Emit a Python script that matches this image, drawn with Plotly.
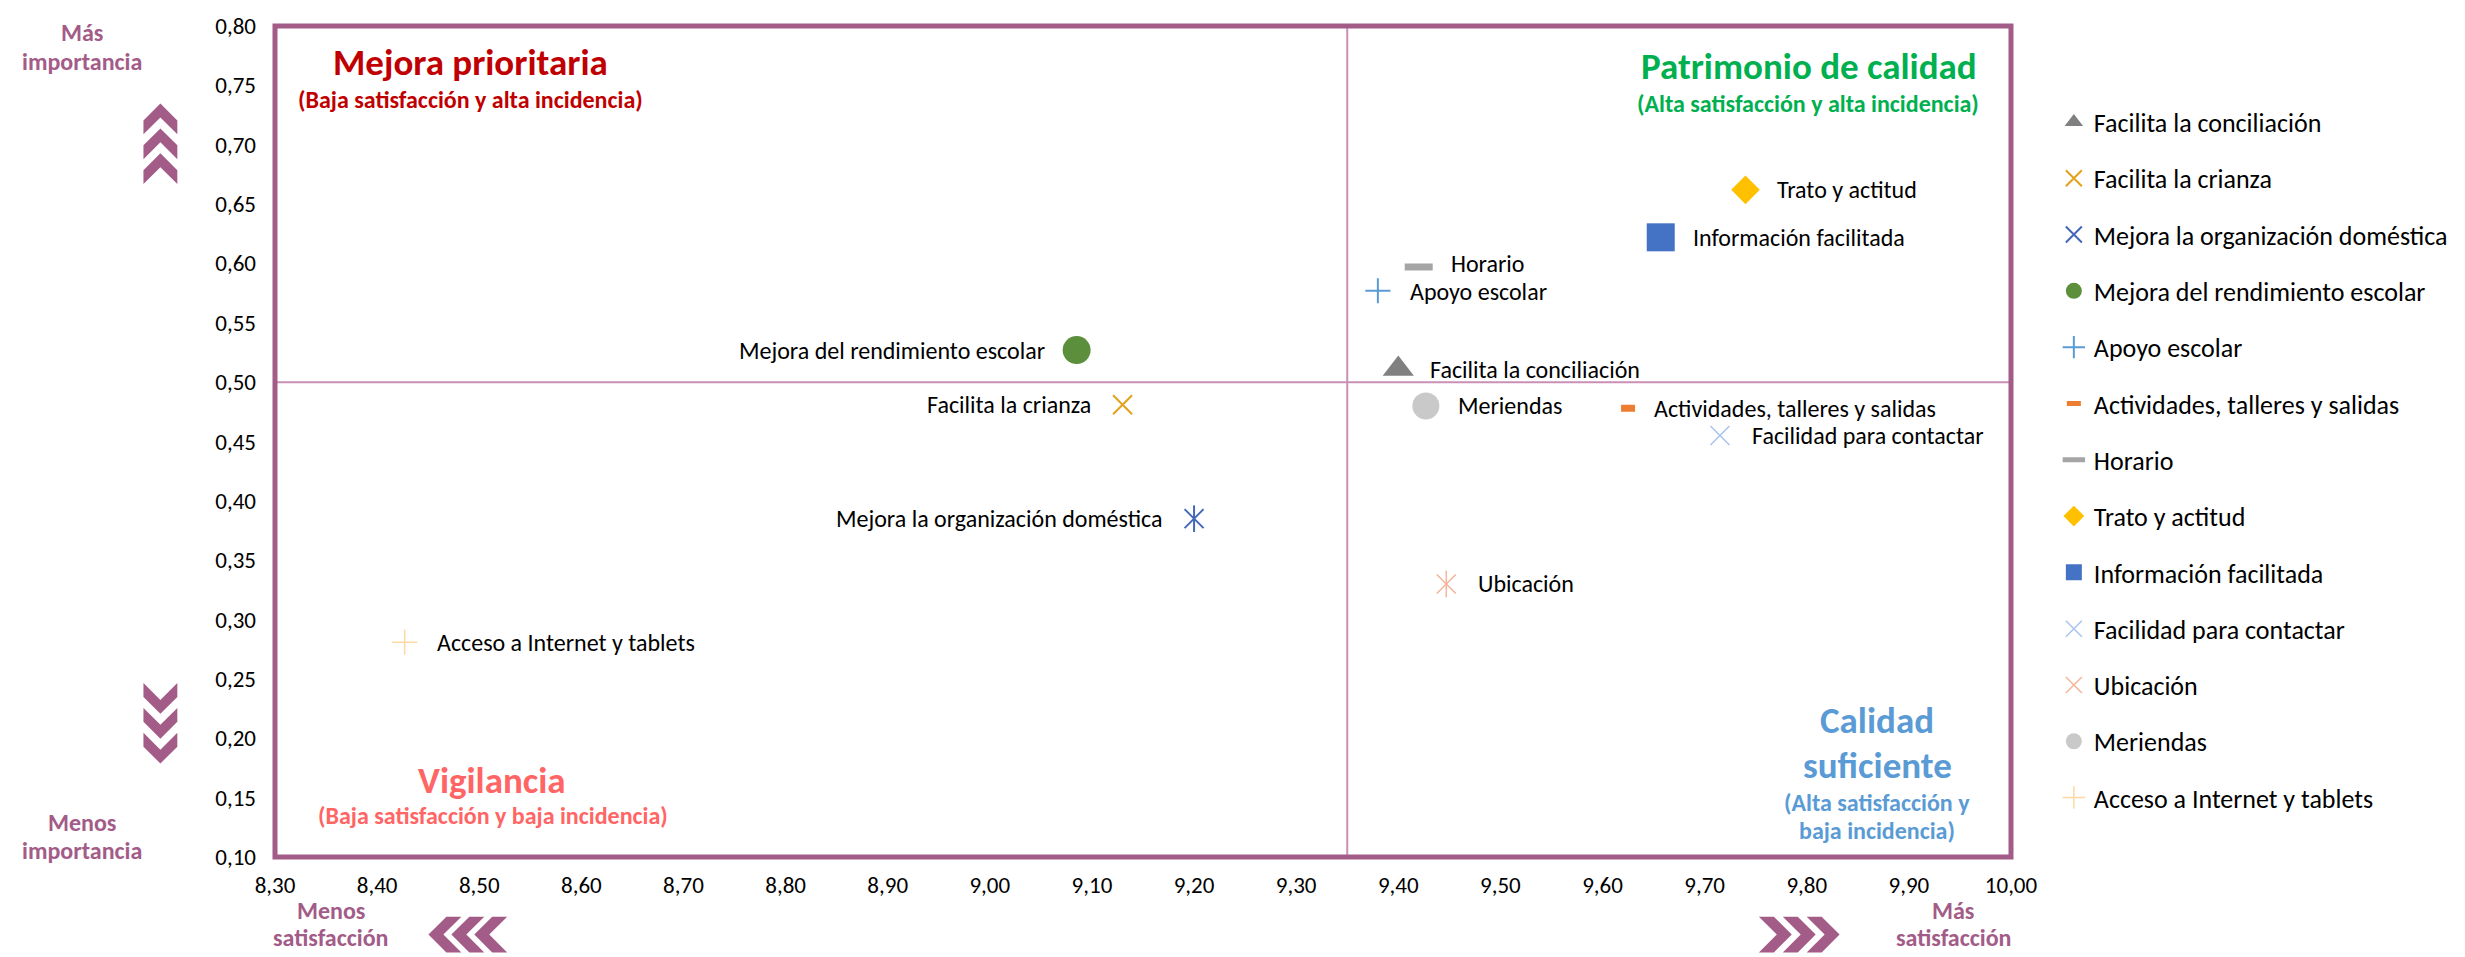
import plotly.graph_objects as go

# Service aspects: satisfaction (x) against importance / incidence (y)
aspectos = [
    "Facilita la conciliación",
    "Facilita la crianza",
    "Mejora la organización doméstica",
    "Mejora del rendimiento escolar",
    "Apoyo escolar",
    "Actividades, talleres y salidas",
    "Horario",
    "Trato y actitud",
    "Información facilitada",
    "Facilidad para contactar",
    "Ubicación",
    "Meriendas",
    "Acceso a Internet y tablets",
]
satisfaccion = [9.40, 9.13, 9.20, 9.085, 9.38, 9.625, 9.42, 9.74, 9.657, 9.715, 9.447, 9.427, 8.427]
importancia = [0.511, 0.481, 0.385, 0.527, 0.577, 0.478, 0.597, 0.662, 0.622, 0.455, 0.330, 0.480, 0.281]

# Quadrant thresholds
umbral_satisfaccion = 9.35
umbral_importancia = 0.50

x_ticks = [8.30, 8.40, 8.50, 8.60, 8.70, 8.80, 8.90, 9.00, 9.10, 9.20,
           9.30, 9.40, 9.50, 9.60, 9.70, 9.80, 9.90, 10.00]
y_ticks = [0.10, 0.15, 0.20, 0.25, 0.30, 0.35, 0.40, 0.45, 0.50, 0.55,
           0.60, 0.65, 0.70, 0.75, 0.80]

# Marker style for every aspect: symbol, size, colour, stroke width, overlay symbol,
# label side and label offsets (px)
estilos = [
    dict(symbol="triangle-up", size=27, color="#808080", lw=0, extra=None, side="right", off=30, dy=0),
    dict(symbol="x-thin-open", size=19, color="#E1A21E", lw=2, extra=None, side="left", off=30, dy=0),
    dict(symbol="x-thin-open", size=19, color="#4468B8", lw=2, extra="line-ns-open", side="left", off=30, dy=0),
    dict(symbol="circle", size=28, color="#5B8F3B", lw=0, extra=None, side="left", off=30, dy=0),
    dict(symbol="cross-thin-open", size=18, color="#5B9BD5", lw=2, extra=None, side="right", off=30, dy=-1),
    dict(symbol="line-ew-open", size=10, color="#ED7D31", lw=7, extra=None, side="right", off=24, dy=0),
    dict(symbol="line-ew-open", size=20, color="#A5A5A5", lw=7, extra=None, side="right", off=30, dy=3),
    dict(symbol="diamond", size=22, color="#FFC000", lw=0, extra=None, side="right", off=30, dy=0),
    dict(symbol="square", size=28, color="#4472C4", lw=0, extra=None, side="right", off=30, dy=0),
    dict(symbol="x-thin-open", size=19, color="#A9C4EA", lw=1.5, extra=None, side="right", off=30, dy=0),
    dict(symbol="x-thin-open", size=19, color="#F4B49A", lw=1.5, extra="line-ns-open", side="right", off=30, dy=0),
    dict(symbol="circle", size=27, color="#C9C9C9", lw=0, extra=None, side="right", off=30, dy=0),
    dict(symbol="cross-thin-open", size=18, color="#FFD9A3", lw=1.5, extra=None, side="right", off=30, dy=0),
]

FONT = "Calibri, Carlito, Lato, sans-serif"
MALVA = "#A35B88"
MALVA_CLARO = "#C98FB5"

W, H = 2465, 957
PLOT_L, PLOT_R, PLOT_T, PLOT_B = 275, 2017, 21, 857


def px(x):
    return (x - PLOT_L) / (PLOT_R - PLOT_L)


def py(y):
    return (PLOT_B - y) / (PLOT_B - PLOT_T)


def poly(points):
    return "M " + " L ".join(f"{px(a):.5f},{py(b):.5f}" for a, b in points) + " Z"


fig = go.Figure()

for i, nombre in enumerate(aspectos):
    st = estilos[i]
    fig.add_trace(go.Scatter(
        x=[satisfaccion[i]], y=[importancia[i]], mode="markers", name=nombre,
        legendgroup=nombre,
        marker=dict(symbol=st["symbol"], size=st["size"], color=st["color"],
                    line=dict(width=st["lw"], color=st["color"])),
        hoverinfo="name",
    ))
    if st["extra"]:
        fig.add_trace(go.Scatter(
            x=[satisfaccion[i]], y=[importancia[i]], mode="markers", name=nombre,
            legendgroup=nombre, showlegend=False,
            marker=dict(symbol=st["extra"], size=st["size"], color=st["color"],
                        line=dict(width=st["lw"], color=st["color"])),
            hoverinfo="skip",
        ))

annotations = []
# Point labels next to each marker
for i, nombre in enumerate(aspectos):
    st = estilos[i]
    derecha = st["side"] == "right"
    annotations.append(dict(
        x=satisfaccion[i], y=importancia[i], xref="x", yref="y", text=nombre,
        showarrow=False, xanchor="left" if derecha else "right", yanchor="middle",
        xshift=st["off"] if derecha else -st["off"], yshift=st["dy"],
        font=dict(family=FONT, size=24, color="#000000"),
    ))


def nota(texto, x, y, size, color, bold=True):
    annotations.append(dict(
        x=px(x), y=py(y), xref="paper", yref="paper",
        text=f"<b>{texto}</b>" if bold else texto,
        showarrow=False, xanchor="center", yanchor="middle",
        font=dict(family=FONT, size=size, color=color),
    ))


TITULO, SUBTITULO, NOTA = 37, 24, 24

# Quadrant titles
nota("Mejora prioritaria", 471, 58, TITULO, "#C00000")
nota("(Baja satisfacción y alta incidencia)", 471, 95, SUBTITULO, "#C00000")
nota("Patrimonio de calidad", 1814, 62, TITULO, "#00B050")
nota("(Alta satisfacción y alta incidencia)", 1813, 99, SUBTITULO, "#00B050")
nota("Vigilancia", 493, 780, TITULO, "#FF6565")
nota("(Baja satisfacción y baja incidencia)", 494, 815, SUBTITULO, "#FF6565")
nota("Calidad", 1883, 720, TITULO, "#5B9BD5")
nota("suficiente", 1883, 765, TITULO, "#5B9BD5")
nota("(Alta satisfacción y", 1883, 802, SUBTITULO, "#5B9BD5")
nota("baja incidencia)", 1883, 830, SUBTITULO, "#5B9BD5")

# Axis direction notes
nota("Más", 81, 28, NOTA, MALVA)
nota("importancia", 81, 57, NOTA, MALVA)
nota("Menos", 81, 822, NOTA, MALVA)
nota("importancia", 81, 850, NOTA, MALVA)
nota("Menos", 331, 911, NOTA, MALVA)
nota("satisfacción", 331, 938, NOTA, MALVA)
nota("Más", 1959, 911, NOTA, MALVA)
nota("satisfacción", 1959, 938, NOTA, MALVA)

shapes = [
    # quadrant dividers
    dict(type="line", xref="x", yref="paper", x0=umbral_satisfaccion, x1=umbral_satisfaccion,
         y0=0, y1=1, line=dict(color=MALVA_CLARO, width=2), layer="below"),
    dict(type="line", xref="paper", yref="y", x0=0, x1=1,
         y0=umbral_importancia, y1=umbral_importancia,
         line=dict(color=MALVA_CLARO, width=2), layer="below"),
    # plot frame
    dict(type="rect", xref="paper", yref="paper", x0=0, x1=1, y0=0, y1=1,
         line=dict(color=MALVA, width=5), layer="above"),
]

# Direction chevrons
for yt in (99, 124, 149):
    shapes.append(dict(type="path", xref="paper", yref="paper",
                       path=poly([(143, yt + 17), (160, yt), (177, yt + 17), (177, yt + 31),
                                  (160, yt + 14), (143, yt + 31)]),
                       fillcolor=MALVA, line=dict(width=0)))
for yt in (682, 707, 732):
    shapes.append(dict(type="path", xref="paper", yref="paper",
                       path=poly([(143, yt), (160, yt + 17), (177, yt), (177, yt + 14),
                                  (160, yt + 31), (143, yt + 14)]),
                       fillcolor=MALVA, line=dict(width=0)))
for xl in (429, 452, 475):
    shapes.append(dict(type="path", xref="paper", yref="paper",
                       path=poly([(xl, 935), (xl + 18, 917), (xl + 33, 917), (xl + 15, 935),
                                  (xl + 33, 953), (xl + 18, 953)]),
                       fillcolor=MALVA, line=dict(width=0)))
for xl in (1764, 1788, 1812):
    shapes.append(dict(type="path", xref="paper", yref="paper",
                       path=poly([(xl, 917), (xl + 15, 917), (xl + 33, 935), (xl + 15, 953),
                                  (xl, 953), (xl + 18, 935)]),
                       fillcolor=MALVA, line=dict(width=0)))

fig.update_layout(
    width=W, height=H,
    margin=dict(l=PLOT_L, r=W - PLOT_R, t=PLOT_T, b=H - PLOT_B, pad=0),
    paper_bgcolor="white", plot_bgcolor="white",
    separators=",.",
    font=dict(family=FONT, color="#000000"),
    showlegend=True,
    legend=dict(
        x=px(2060), xanchor="left", y=py(94), yanchor="top",
        font=dict(family=FONT, size=26, color="#000000"),
        traceorder="grouped", tracegroupgap=19.5,
        bgcolor="rgba(0,0,0,0)", borderwidth=0, itemwidth=30,
    ),
    xaxis=dict(
        range=[x_ticks[0], x_ticks[-1]], tickmode="array", tickvals=x_ticks,
        tickformat=".2f", showgrid=False, zeroline=False, showline=False,
        ticks="", tickfont=dict(family=FONT, size=23, color="#000000"),
        ticklabelstandoff=12,
    ),
    yaxis=dict(
        range=[y_ticks[0], y_ticks[-1]], tickmode="array", tickvals=y_ticks,
        tickformat=".2f", showgrid=False, zeroline=False, showline=False,
        ticks="", tickfont=dict(family=FONT, size=23, color="#000000"),
        ticklabelstandoff=18,
    ),
    annotations=annotations,
    shapes=shapes,
)

fig.write_html("out.html")
